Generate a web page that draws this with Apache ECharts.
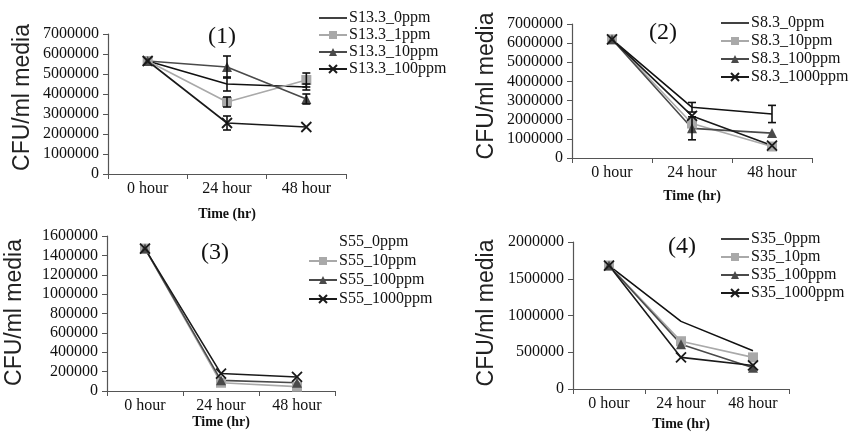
<!DOCTYPE html>
<html>
<head>
<meta charset="utf-8">
<script src="https://cdn.jsdelivr.net/npm/echarts@6/dist/echarts.min.js"></script>
<style>html,body{margin:0;padding:0;background:#fff}#c{width:867px;height:439px}</style>
</head>
<body>
<div id="c"></div>
<script>
const categories = ['0 hour', '24 hour', '48 hour'];

// Panel 1
const p1Names = ['S13.3_0ppm', 'S13.3_1ppm', 'S13.3_10ppm', 'S13.3_100ppm'];
const p1_0ppm = [5650000, 4500000, 4350000];
const p1_1ppm = [5650000, 3600000, 4700000];
const p1_10ppm = [5650000, 5350000, 3750000];
const p1_100ppm = [5650000, 2550000, 2350000];
const p1Err_0ppm = [0, 350000, 150000];
const p1Err_1ppm = [0, 250000, 350000];
const p1Err_10ppm = [0, 550000, 250000];
const p1Err_100ppm = [0, 350000, 0];

// Panel 2
const p2Names = ['S8.3_0ppm', 'S8.3_10ppm', 'S8.3_100ppm', 'S8.3_1000ppm'];
const p2_0ppm = [6200000, 2650000, 2300000];
const p2_10ppm = [6200000, 1800000, 600000];
const p2_100ppm = [6200000, 1550000, 1300000];
const p2_1000ppm = [6200000, 2200000, 650000];
const p2Err_0ppm = [0, 250000, 450000];
const p2Err_100ppm = [0, 600000, 0];

// Panel 3
const p3Names = ['S55_0ppm', 'S55_10ppm', 'S55_100ppm', 'S55_1000ppm'];
const p3_0ppm = [];
const p3_10ppm = [1470000, 85000, 45000];
const p3_100ppm = [1470000, 110000, 85000];
const p3_1000ppm = [1470000, 180000, 145000];

// Panel 4
const p4Names = ['S35_0ppm', 'S35_10pm', 'S35_100ppm', 'S35_1000ppm'];
const p4_0ppm = [1680000, 920000, 520000];
const p4_10ppm = [1680000, 650000, 430000];
const p4_100ppm = [1680000, 610000, 290000];
const p4_1000ppm = [1680000, 430000, 320000];

const SERIF = 'Liberation Serif';
const SANS = 'Liberation Sans';
const crossPath = 'path://M0,0L10,10M10,0L0,10';
const lineIcon = 'path://M0,0L28,0L28,1.6L0,1.6Z';

const styles = [
  { symbol: 'none', color: '#111', symbolSize: 0 },
  { symbol: 'rect', color: '#a9a9a9', symbolSize: 10 },
  { symbol: 'triangle', color: '#4a4a4a', symbolSize: 10 },
  { symbol: crossPath, color: '#1a1a1a', symbolSize: 10 }
];

function lineSeries(idx, name, data, st) {
  return {
    type: 'line', name: name, data: data,
    xAxisIndex: idx, yAxisIndex: idx,
    symbol: st.symbol, symbolSize: st.symbolSize,
    showSymbol: st.symbol !== 'none',
    lineStyle: { color: st.color, width: 1.6 },
    itemStyle: { color: st.color, borderColor: st.color, borderWidth: st.symbol === crossPath ? 1.8 : 0 },
    emphasis: { disabled: true },
    animation: false, z: 3
  };
}

function errSeries(idx, vals, errs) {
  const d = [];
  for (let i = 0; i < vals.length; i++) {
    if (errs[i] > 0) d.push([i, vals[i], errs[i]]);
  }
  return {
    type: 'custom', xAxisIndex: idx, yAxisIndex: idx, data: d, silent: true, z: 4,
    animation: false,
    encode: { x: 0, y: 1 },
    renderItem: function (params, api) {
      const x = api.value(0), v = api.value(1), e = api.value(2);
      const t = api.coord([x, v + e]);
      const b = api.coord([x, v - e]);
      const w = 4;
      const st = { stroke: '#111', lineWidth: 1.6 };
      return {
        type: 'group', children: [
          { type: 'line', shape: { x1: t[0], y1: t[1], x2: b[0], y2: b[1] }, style: st },
          { type: 'line', shape: { x1: t[0] - w, y1: t[1], x2: t[0] + w, y2: t[1] }, style: st },
          { type: 'line', shape: { x1: b[0] - w, y1: b[1], x2: b[0] + w, y2: b[1] }, style: st }
        ]
      };
    }
  };
}

const grids = [
  { left: 108, top: 34, width: 238, height: 140 },
  { left: 572, top: 24, width: 240, height: 134 },
  { left: 107, top: 236, width: 228, height: 155 },
  { left: 573, top: 242, width: 216, height: 147 }
];
const yCfg = [
  { max: 7000000, interval: 1000000, gap: 74, shift: 13 },
  { max: 7000000, interval: 1000000, gap: 74, shift: 10 },
  { max: 1600000, interval: 200000, gap: 81, shift: 2 },
  { max: 2000000, interval: 500000, gap: 75, shift: 5 }
];
const xNameGap = [33, 31, 23, 28];

const xAxes = grids.map((g, i) => ({
  type: 'category', gridIndex: i, data: categories, boundaryGap: true,
  axisLine: { lineStyle: { color: '#555', width: 1.2 } },
  axisTick: { show: true, length: 5, lineStyle: { color: '#555' } },
  axisLabel: { fontFamily: SERIF, fontSize: 16, color: '#111', margin: 7 },
  name: 'Time (hr)', nameLocation: 'middle', nameGap: xNameGap[i],
  nameTextStyle: { fontFamily: SERIF, fontSize: 14, fontWeight: 'bold', color: '#111' }
}));
const yAxes = grids.map((g, i) => ({
  type: 'value', gridIndex: i, min: 0, max: yCfg[i].max, interval: yCfg[i].interval,
  axisLine: { show: true, lineStyle: { color: '#555', width: 1.2 } },
  axisTick: { show: true, length: 5, lineStyle: { color: '#555' } },
  splitLine: { show: false },
  axisLabel: { fontFamily: SERIF, fontSize: 16, color: '#111', margin: 9, formatter: v => String(v) },
  name: 'CFU/ml media', nameLocation: 'middle', nameGap: yCfg[i].gap, nameRotate: 90,
  nameTextStyle: { fontFamily: SANS, fontSize: 23, color: '#222', padding: [0, 0, 0, yCfg[i].shift] }
}));

const series = [
  lineSeries(0, p1Names[0], p1_0ppm, styles[0]),
  lineSeries(0, p1Names[1], p1_1ppm, styles[1]),
  lineSeries(0, p1Names[2], p1_10ppm, styles[2]),
  lineSeries(0, p1Names[3], p1_100ppm, styles[3]),
  errSeries(0, p1_0ppm, p1Err_0ppm),
  errSeries(0, p1_1ppm, p1Err_1ppm),
  errSeries(0, p1_10ppm, p1Err_10ppm),
  errSeries(0, p1_100ppm, p1Err_100ppm),

  lineSeries(1, p2Names[0], p2_0ppm, styles[0]),
  lineSeries(1, p2Names[1], p2_10ppm, styles[1]),
  lineSeries(1, p2Names[2], p2_100ppm, styles[2]),
  lineSeries(1, p2Names[3], p2_1000ppm, styles[3]),
  errSeries(1, p2_0ppm, p2Err_0ppm),
  errSeries(1, p2_100ppm, p2Err_100ppm),

  lineSeries(2, p3Names[0], p3_0ppm, styles[0]),
  lineSeries(2, p3Names[1], p3_10ppm, styles[1]),
  lineSeries(2, p3Names[2], p3_100ppm, styles[2]),
  lineSeries(2, p3Names[3], p3_1000ppm, styles[3]),

  lineSeries(3, p4Names[0], p4_0ppm, styles[0]),
  lineSeries(3, p4Names[1], p4_10ppm, styles[1]),
  lineSeries(3, p4Names[2], p4_100ppm, styles[2]),
  lineSeries(3, p4Names[3], p4_1000ppm, styles[3])
];

function legend(names, left, top, gap, firstIcon) {
  return {
    orient: 'vertical', left: left, top: top, itemWidth: 28, itemHeight: 10, itemGap: gap,
    selectedMode: false, symbolKeepAspect: true,
    textStyle: { fontFamily: SERIF, fontSize: 16, color: '#111', padding: [0, 0, 0, -3] },
    data: names.map((n, i) => (i === 0) ? { name: n, icon: firstIcon } : n)
  };
}

const titles = [
  { text: '(1)', left: 222, top: 37 },
  { text: '(2)', left: 663, top: 33 },
  { text: '(3)', left: 215, top: 253 },
  { text: '(4)', left: 682, top: 247 }
].map(t => ({
  text: t.text, left: t.left, top: t.top, textAlign: 'center', textVerticalAlign: 'middle',
  textStyle: { fontFamily: SERIF, fontSize: 24, fontWeight: 'normal', color: '#111' }, padding: 0
}));

const option = {
  backgroundColor: '#fff',
  animation: false,
  title: titles,
  grid: grids,
  xAxis: xAxes,
  yAxis: yAxes,
  legend: [
    legend(p1Names, 313, 5, 1, lineIcon),
    legend(p2Names, 715, 10, 2, lineIcon),
    legend(p3Names, 303, 229, 3, 'none'),
    legend(p4Names, 715, 226, 2, lineIcon)
  ],
  series: series
};

const chart = echarts.init(document.getElementById('c'), null, { renderer: 'canvas' });
chart.setOption(option);
</script>
</body>
</html>
